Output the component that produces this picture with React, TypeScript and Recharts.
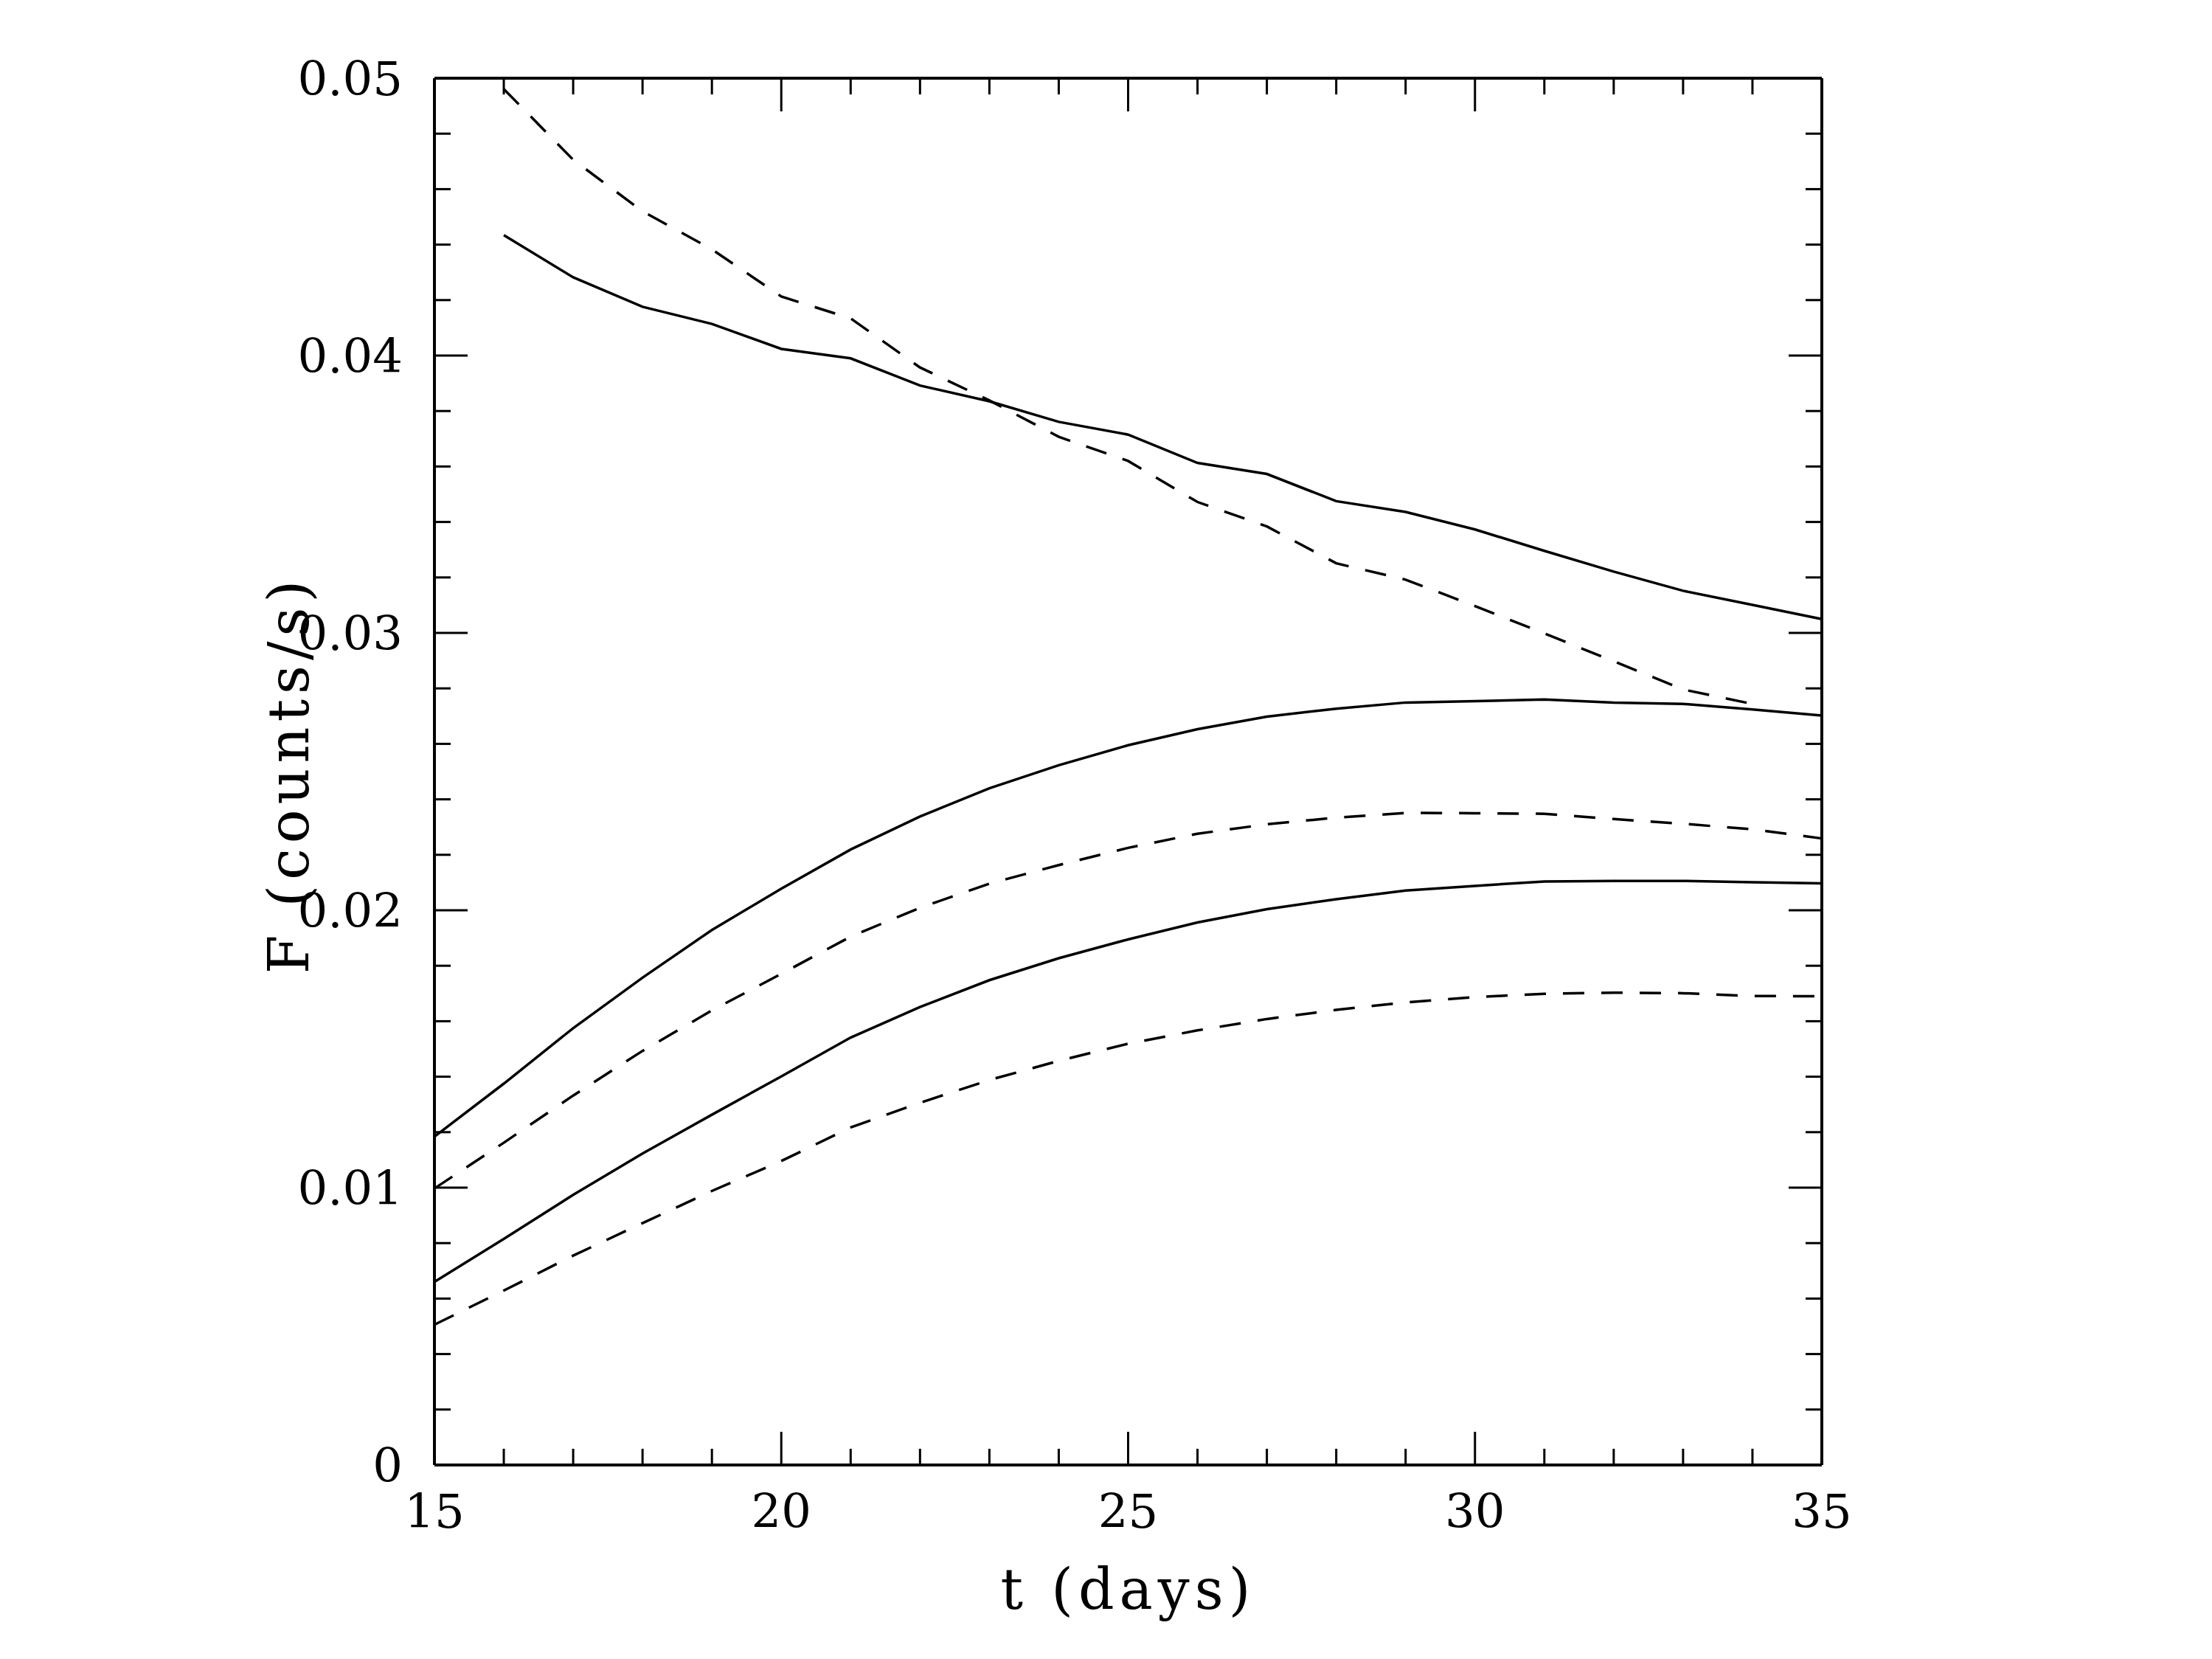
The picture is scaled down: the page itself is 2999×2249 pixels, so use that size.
import React from 'react';
import { LineChart, Line, XAxis, YAxis } from 'recharts';

// time in days
const days = [15, 16, 17, 18, 19, 20, 21, 22, 23, 24, 25, 26, 27, 28, 29, 30, 31, 32, 33, 34, 35];

// F (counts/s) for each curve, null where the curve is not drawn
const upperSolid = [null, 0.04434, 0.04282, 0.04176, 0.04114, 0.04024, 0.0399, 0.03892, 0.03835, 0.03761, 0.03715,
  0.03613, 0.03573, 0.03475, 0.03436, 0.03373, 0.03296, 0.03221, 0.03152, 0.03101, 0.0305];
const upperDashed = [null, 0.04961, 0.04706, 0.0452, 0.04383, 0.04213, 0.04134, 0.03957, 0.03838, 0.03707, 0.0362,
  0.03472, 0.03384, 0.03251, 0.03192, 0.03097, 0.02998, 0.02898, 0.02796, 0.02744, null];
const midSolid = [0.01184, 0.01375, 0.01575, 0.01757, 0.01929, 0.02078, 0.02219, 0.02338, 0.0244, 0.02523, 0.02595,
  0.02653, 0.02698, 0.02727, 0.02749, 0.02754, 0.0276, 0.02749, 0.02744, 0.02724, 0.02702];
const midDashed = [0.00997, 0.01162, 0.01332, 0.01493, 0.01639, 0.01771, 0.01905, 0.02009, 0.02096, 0.02163, 0.02225,
  0.02276, 0.0231, 0.02334, 0.02351, 0.0235, 0.02348, 0.02329, 0.02312, 0.02292, 0.02259];
const lowSolid = [0.0066, 0.00815, 0.00974, 0.01123, 0.01263, 0.01401, 0.01541, 0.01651, 0.01748, 0.01827, 0.01895,
  0.01956, 0.02004, 0.0204, 0.02071, 0.02088, 0.02104, 0.02106, 0.02106, 0.02101, 0.02097];
const lowDashed = [0.00506, 0.00629, 0.00755, 0.00872, 0.00988, 0.01096, 0.01217, 0.01306, 0.01388, 0.01457, 0.01519,
  0.01567, 0.01608, 0.01641, 0.01668, 0.01687, 0.01699, 0.01703, 0.01701, 0.01691, 0.0169];

const xTicks = [15, 16, 17, 18, 19, 20, 21, 22, 23, 24, 25, 26, 27, 28, 29, 30, 31, 32, 33, 34, 35];
const yTicks = [0, 0.002, 0.004, 0.006, 0.008, 0.01, 0.012, 0.014, 0.016, 0.018, 0.02, 0.022, 0.024, 0.026, 0.028,
  0.03, 0.032, 0.034, 0.036, 0.038, 0.04, 0.042, 0.044, 0.046, 0.048, 0.05];
const yLabels = ['0', '0.01', '0.02', '0.03', '0.04', '0.05'];

const data = days.map((t, i) => ({
  t,
  upperSolid: upperSolid[i],
  upperDashed: upperDashed[i],
  midSolid: midSolid[i],
  midDashed: midDashed[i],
  lowSolid: lowSolid[i],
  lowDashed: lowDashed[i],
}));

const FONT = 'DejaVu Serif';
const TICK_W = 3;
const LINE_W = 3.5;
const MAJOR = 45;
const MINOR = 22;
const DASH = '29 23';

const isMajorX = (v: number) => v % 5 === 0;
const isMajorY = (v: number) => Math.abs(v * 100 - Math.round(v * 100)) < 1e-6;

const BottomTick = ({ x, y, payload }: any) => {
  const major = isMajorX(payload.value);
  return (
    <g>
      <line x1={x} x2={x} y1={y} y2={y - (major ? MAJOR : MINOR)} stroke="#000" strokeWidth={TICK_W} />
      {major && (
        <text x={x} y={y + 85} textAnchor="middle" fontFamily={FONT} fontSize={64} fill="#000">
          {payload.value}
        </text>
      )}
    </g>
  );
};

const TopTick = ({ x, y, payload }: any) => {
  const major = isMajorX(payload.value);
  return <line x1={x} x2={x} y1={y} y2={y + (major ? MAJOR : MINOR)} stroke="#000" strokeWidth={TICK_W} />;
};

const LeftTick = ({ x, y, payload }: any) => {
  const major = isMajorY(payload.value);
  return (
    <g>
      <line x1={x} x2={x + (major ? MAJOR : MINOR)} y1={y} y2={y} stroke="#000" strokeWidth={TICK_W} />
      {major && (
        <text x={x - 43} y={y + 23} textAnchor="end" fontFamily={FONT} fontSize={64} fill="#000">
          {yLabels[Math.round(payload.value * 100)]}
        </text>
      )}
    </g>
  );
};

const RightTick = ({ x, y, payload }: any) => {
  const major = isMajorY(payload.value);
  return <line x1={x} x2={x - (major ? MAJOR : MINOR)} y1={y} y2={y} stroke="#000" strokeWidth={TICK_W} />;
};

const XTitle = ({ viewBox }: any) => (
  <text x={viewBox.x + viewBox.width / 2} y={viewBox.y + 195} textAnchor="middle"
    fontFamily={FONT} fontSize={76} letterSpacing={7} fill="#000">
    t (days)
  </text>
);

const YTitle = ({ viewBox }: any) => {
  const cx = viewBox.x + 29;
  const cy = viewBox.y + viewBox.height / 2 + 4;
  return (
    <text x={cx} y={cy} transform={`rotate(-90 ${cx} ${cy})`} textAnchor="middle"
      fontFamily={FONT} fontSize={76} letterSpacing={7} fill="#000">
      F (counts/s)
    </text>
  );
};

const axisLine = { stroke: '#000', strokeWidth: 4 };

export default function App() {
  return (
    <div style={{ background: '#fff' }}>
      <LineChart width={2980} height={2230} data={data} margin={{ top: 97, right: 517, bottom: 102, left: 381 }}>
        <XAxis xAxisId="b" dataKey="t" type="number" domain={[15, 35]} ticks={xTicks} interval={0}
          height={150} tickSize={0} tickMargin={0} tickLine={false} axisLine={axisLine}
          tick={BottomTick} label={{ content: XTitle }} />
        <XAxis xAxisId="top" orientation="top" dataKey="t" type="number" domain={[15, 35]} ticks={xTicks}
          interval={0} height={1} tickSize={0} tickMargin={0} tickLine={false} axisLine={axisLine} tick={TopTick} />
        <YAxis yAxisId="l" type="number" domain={[0, 0.05]} ticks={yTicks} interval={0} width={200}
          tickSize={0} tickMargin={0} tickLine={false} axisLine={axisLine} tick={LeftTick}
          label={{ content: YTitle }} />
        <YAxis yAxisId="r" orientation="right" type="number" domain={[0, 0.05]} ticks={yTicks} interval={0}
          width={1} tickSize={0} tickMargin={0} tickLine={false} axisLine={axisLine} tick={RightTick} />

        <Line xAxisId="b" yAxisId="l" type="linear" dataKey="upperSolid" stroke="#000" strokeWidth={LINE_W}
          dot={false} isAnimationActive={false} />
        <Line xAxisId="b" yAxisId="l" type="linear" dataKey="upperDashed" stroke="#000" strokeWidth={LINE_W}
          strokeDasharray={DASH} dot={false} isAnimationActive={false} />
        <Line xAxisId="b" yAxisId="l" type="linear" dataKey="midSolid" stroke="#000" strokeWidth={LINE_W}
          dot={false} isAnimationActive={false} />
        <Line xAxisId="b" yAxisId="l" type="linear" dataKey="midDashed" stroke="#000" strokeWidth={LINE_W}
          strokeDasharray={DASH} dot={false} isAnimationActive={false} />
        <Line xAxisId="b" yAxisId="l" type="linear" dataKey="lowSolid" stroke="#000" strokeWidth={LINE_W}
          dot={false} isAnimationActive={false} />
        <Line xAxisId="b" yAxisId="l" type="linear" dataKey="lowDashed" stroke="#000" strokeWidth={LINE_W}
          strokeDasharray={DASH} dot={false} isAnimationActive={false} />
        {/* keeps the mirrored top/right axes bound to a series */}
        <Line xAxisId="top" yAxisId="r" type="linear" dataKey="lowSolid" stroke="none" dot={false}
          activeDot={false} isAnimationActive={false} />
      </LineChart>
    </div>
  );
}
